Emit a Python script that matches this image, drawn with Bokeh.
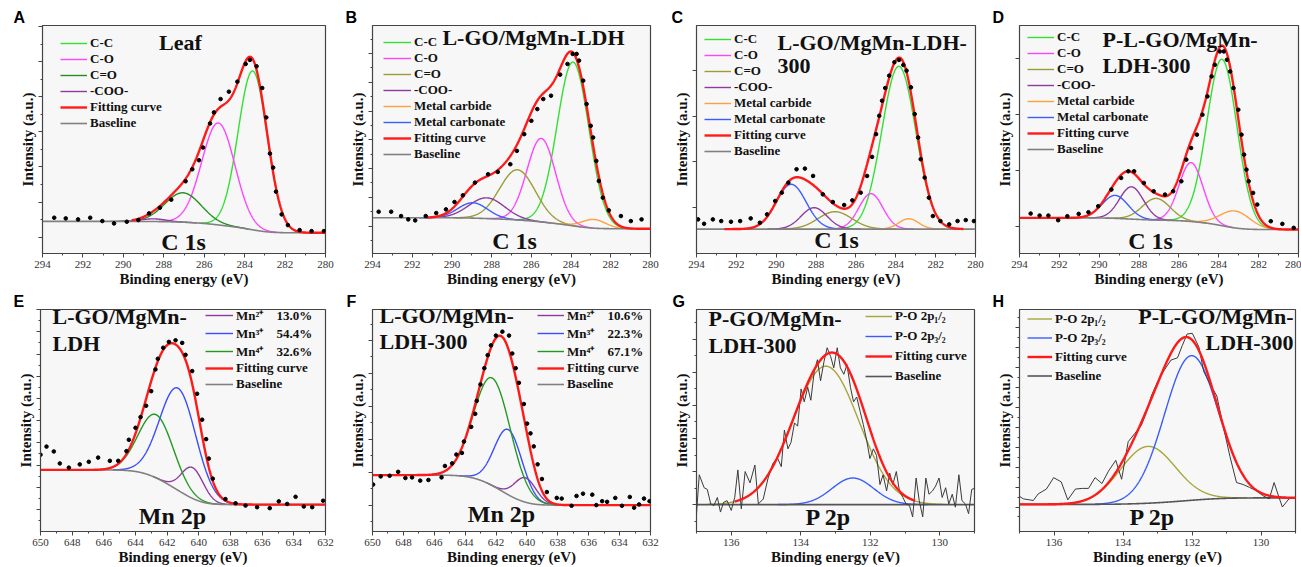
import numpy as np
from bokeh.plotting import figure
from bokeh.models import (Range1d, FixedTicker, SingleIntervalTicker, Label, Legend,
                          LegendItem, CustomJSTickFormatter, Title)
from bokeh.layouts import row, column
from bokeh.embed import file_html
from bokeh.resources import INLINE

SERIF = "Liberation Serif"
SANS = "Liberation Sans"
NB = "\u00a0" * 4

# ====================== DATA ======================
# Intensities are in arbitrary units (a.u.); binding energies in eV.

# ---- A: Leaf, C 1s ----
A_be = [293.42, 292.85, 292.24, 291.64, 291.04, 290.46, 289.83, 289.26, 288.73, 288.19,
        287.63, 286.92, 286.59, 286.26, 286.06, 285.71, 285.52, 285.19, 284.78, 284.36,
        283.95, 283.74, 283.41, 283.13, 282.93, 282.75, 282.59, 282.45, 282.17, 281.86,
        281.28, 280.69, 280.08]
A_int = [107, 105, 102, 107, 97, 90, 95, 100, 120, 137,
         161, 216, 252, 279, 317, 389, 422, 462, 484, 514,
         567, 579, 560, 495, 407, 299, 257, 185, 117, 85,
         70, 67, 67]
A_comp = ["C-C", "C-O", "C=O", "-COO-"]
A_center = [283.6, 285.3, 287.05, 288.5]
A_height = [475, 305, 88, 8]
A_sigma = [0.72, 0.82, 0.90, 0.60]
A_baseline = [96, 62]          # high-BE side, low-BE side

# ---- B: L-GO/MgMn-LDH, C 1s ----
B_be = [293.69, 293.06, 292.56, 292.20, 291.85, 291.32, 290.79, 290.30, 289.87, 289.45,
        288.84, 288.18, 287.69, 287.06, 286.73, 286.36, 286.00, 285.70, 285.40, 285.01,
        284.55, 284.18, 283.92, 283.72, 283.60, 283.39, 283.22, 283.01, 282.89, 282.73,
        282.60, 282.40, 282.10, 281.49, 280.99, 280.45]
B_int = [125, 125, 112, 102, 99, 112, 121, 132, 154, 174,
         212, 237, 244, 267, 307, 357, 397, 432, 462, 472,
         535, 567, 597, 597, 577, 517, 447, 382, 347, 277,
         217, 167, 129, 112, 97, 102]
C1S_comp = ["C-C", "C-O", "C=O", "-COO-", "Metal carbide", "Metal carbonate"]
B_center = [283.9, 285.5, 286.7, 288.25, 282.85, 288.95]
B_height = [490, 250, 150, 62, 26, 46]
B_sigma = [0.80, 0.72, 0.90, 0.90, 0.60, 0.75]
B_baseline = [107, 74]

# ---- C: L-GO/MgMn-LDH-300, C 1s ----
C_be = [293.92, 293.62, 293.18, 292.76, 292.27, 291.81, 291.28, 290.82, 290.46, 290.05,
        289.72, 289.39, 288.98, 288.56, 288.15, 287.66, 287.16, 286.59, 286.18, 285.76,
        285.44, 285.19, 284.99, 284.83, 284.69, 284.53, 284.33, 284.07, 283.84, 283.62,
        283.46, 283.24, 283.05, 282.88, 282.75, 282.55, 282.34, 282.14, 281.76, 281.32,
        280.90, 280.49, 280.08]
C_int = [102, 89, 102, 97, 95, 97, 105, 92, 117, 157,
         182, 212, 252, 254, 232, 177, 154, 145, 159, 182,
         232, 289, 357, 412, 457, 495, 532, 572, 579, 564,
         547, 497, 417, 347, 282, 227, 167, 112, 97, 87,
         97, 100, 97]
C_center = [283.85, 285.25, 287.05, 288.1, 283.35, 289.25]
C_height = [487, 106, 52, 64, 31, 134]
C_sigma = [0.85, 0.60, 0.85, 0.65, 0.50, 0.75]
C_baseline = [73, 73]

# ---- D: P-L-GO/MgMn-LDH-300, C 1s ----
D_be = [293.44, 292.99, 292.55, 292.06, 291.60, 291.03, 290.54, 290.05, 289.39, 288.90,
        288.54, 288.25, 287.76, 287.27, 286.70, 286.29, 285.88, 285.63, 285.39, 285.10,
        284.82, 284.57, 284.36, 284.20, 283.95, 283.75, 283.59, 283.43, 283.26, 283.02,
        282.86, 282.73, 282.61, 282.50, 282.28, 282.07, 281.39, 280.81, 280.24]
D_int = [120, 114, 114, 100, 112, 119, 124, 142, 192, 227,
         247, 247, 212, 187, 177, 187, 217, 282, 317, 357,
         417, 472, 532, 567, 607, 607, 582, 547, 497, 432,
         357, 297, 252, 217, 182, 147, 97, 89, 77]
D_center = [283.84, 285.39, 287.14, 288.38, 283.18, 289.2]
D_height = [500, 177, 65, 97, 51, 69]
D_sigma = [0.76, 0.60, 0.70, 0.60, 0.75, 0.65]
D_baseline = [107, 72]

# ---- E: L-GO/MgMn-LDH, Mn 2p ----
E_be = [650.0, 649.62, 649.16, 648.78, 648.21, 647.52, 646.95, 646.36, 645.62, 645.09,
        644.57, 644.42, 644.0, 643.68, 643.33, 643.01, 642.74, 642.59, 642.25, 641.89,
        641.47, 641.05, 640.84, 640.42, 640.11, 639.79, 639.54, 639.37, 639.12, 638.32,
        637.68, 637.05, 636.32, 635.52, 634.95, 634.42, 633.89, 633.37, 632.84, 632.15]
E_int = [237, 262, 247, 210, 197, 207, 215, 228, 218, 218,
         248, 283, 320, 353, 388, 433, 500, 533, 567, 585,
         590, 582, 545, 495, 425, 345, 285, 225, 163, 100,
         87, 80, 75, 72, 93, 85, 107, 77, 75, 95]
E_comp = ["Mn\u00b2\u207a" + NB + "13.0%", "Mn\u00b3\u207a" + NB + "54.4%",
          "Mn\u2074\u207a" + NB + "32.6%"]
E_center = [640.4, 641.3, 642.7]
E_height = [95, 315, 195]
E_sigma = [0.70, 1.15, 1.10]
E_baseline = [190, 83]

# ---- F: L-GO/MgMn-LDH-300, Mn 2p ----
F_be = [649.96, 649.47, 648.89, 648.34, 647.87, 647.44, 646.91, 646.38, 645.53, 645.31,
        644.84, 644.57, 644.21, 644.08, 643.61, 643.35, 643.25, 643.01, 642.76, 642.54,
        642.33, 642.01, 641.59, 641.16, 640.95, 640.73, 640.52, 640.20, 639.99, 639.77,
        639.56, 639.31, 639.03, 638.71, 638.07, 637.75, 637.11, 636.79, 636.37, 635.77,
        635.51, 635.13, 634.81, 634.28, 633.85, 633.34, 633.06, 632.74, 632.42, 632.06]
F_int = [144, 169, 171, 183, 164, 166, 156, 158, 166, 201,
         209, 236, 241, 276, 321, 361, 401, 451, 501, 541,
         571, 601, 613, 601, 546, 501, 456, 391, 331, 301,
         261, 206, 161, 121, 103, 101, 79, 109, 116, 113,
         81, 93, 91, 103, 79, 106, 73, 83, 101, 93]
F_comp = ["Mn\u00b2\u207a" + NB + "10.6%", "Mn\u00b3\u207a" + NB + "22.3%",
          "Mn\u2074\u207a" + NB + "67.1%"]
F_center = [640.1, 641.2, 642.25]
F_height = [75, 200, 330]
F_sigma = [0.70, 0.90, 1.20]
F_baseline = [173, 81]

# ---- G: P-GO/MgMn-LDH-300, P 2p ----
G_be = [137.0, 136.92, 136.78, 136.69, 136.59, 136.50, 136.40, 136.31, 136.22, 136.12,
        136.00, 135.90, 135.81, 135.71, 135.60, 135.46, 135.32, 135.22, 135.08, 134.94,
        134.80, 134.67, 134.56, 134.47, 134.37, 134.28, 134.18, 134.09, 133.99, 133.90,
        133.80, 133.71, 133.61, 133.52, 133.43, 133.33, 133.24, 133.14, 133.05, 132.95,
        132.86, 132.76, 132.67, 132.57, 132.48, 132.39, 132.29, 132.20, 132.10, 132.01,
        131.91, 131.82, 131.72, 131.63, 131.53, 131.44, 131.35, 131.25, 131.16, 131.06,
        130.97, 130.87, 130.78, 130.68, 130.59, 130.49, 130.40, 130.31, 130.21, 130.12,
        130.02, 129.93, 129.83, 129.74, 129.64, 129.55, 129.45, 129.36, 129.26, 129.17,
        129.08, 129.0]
G_int = [55, 175, 135, 130, 85, 80, 105, 60, 90, 95,
         65, 105, 190, 70, 185, 150, 205, 85, 100, 165,
         210, 227, 200, 313, 255, 275, 335, 325, 440, 400,
         445, 405, 495, 530, 465, 525, 567, 540, 505, 567,
         505, 485, 515, 445, 400, 415, 370, 330, 280, 225,
         255, 235, 145, 175, 125, 180, 145, 185, 125, 105,
         85, 80, 45, 165, 95, 45, 165, 115, 125, 140,
         165, 105, 135, 85, 115, 75, 175, 95, 85, 55,
         130, 133]
P2P_comp = ["P-O 2p\u2081/\u2082", "P-O 2p\u2083/\u2082"]
G_center = [133.28, 132.5]
G_height = [427, 82]
G_sigma = [0.95, 0.60]
G_baseline = [83, 83]

# ---- H: P-L-GO/MgMn-LDH-300, P 2p ----
H_be = [137.0, 136.89, 136.60, 136.46, 136.22, 136.01, 135.79, 135.60, 135.38, 135.18,
        135.00, 134.81, 134.61, 134.42, 134.21, 134.04, 133.85, 133.66, 133.47, 133.32,
        133.18, 132.99, 132.80, 132.61, 132.42, 132.28, 132.14, 131.99, 131.80, 131.66,
        131.47, 131.28, 131.09, 130.90, 130.71, 130.52, 130.33, 130.14, 129.95, 129.76,
        129.62, 129.48, 129.38, 129.19, 129.05]
H_int = [108, 100, 95, 115, 130, 165, 152, 97, 130, 132,
         132, 165, 147, 185, 218, 160, 275, 300, 325, 365,
         415, 460, 495, 525, 532, 570, 605, 607, 565, 490,
         450, 415, 320, 230, 150, 144, 135, 125, 110, 100,
         150, 105, 75, 100, 104]
H_center = [133.28, 132.02]
H_height = [174, 443]
H_sigma = [0.80, 0.78]
H_baseline = [83, 103]

# ====================== STYLE / LAYOUT ======================
C1S_COLORS = ["#33e033", "#ff44ff", "#9c9c36", "#8e3a9e", "#ffa040", "#3a5cff"]
A_COLORS = ["#33e033", "#ff44ff", "#1f8f1f", "#8e3a9e"]
MN_COLORS = ["#8e3a9e", "#3a4cff", "#229a22"]
P_COLORS = ["#a6a63a", "#3a5cff"]
FIT = "#ff1a1a"
FH = 228

panels = [
    dict(letter="A", title=[("Leaf", 138, 211, "center")], elem="C 1s", ex=141, ey=12,
         xr=(280, 294), ytop=682, be=A_be, inten=A_int, kind="dots",
         comp=A_comp, center=A_center, height=A_height, sigma=A_sigma, base=A_baseline,
         colors=A_COLORS, fit=(280, 289.6), w=346, h=290, bl=42, br=21, bt=25, bb=37,
         yt=(49, 105, True), lx=18, ltop=10, lrow=16, gw=27, letter_x=-29),
    dict(letter="B", title=[("L-GO/MgMn-LDH", 161, 216, "center")], elem="C 1s", ex=142, ey=13,
         xr=(280, 294), ytop=682, be=B_be, inten=B_int, kind="dots",
         comp=C1S_comp, center=B_center, height=B_height, sigma=B_sigma, base=B_baseline,
         colors=C1S_COLORS, fit=(280, 291.3), w=324, h=290, bl=22, br=20, bt=25, bb=37,
         yt=(82, 86, True), lx=11, ltop=9, lrow=16, gw=28, letter_x=-27),
    dict(letter="C", title=[("L-GO/MgMn-LDH-", 81, 211, "left"), ("300", 81, 188, "left")],
         elem="C 1s", ex=140, ey=14,
         xr=(280, 294), ytop=682, be=C_be, inten=C_int, kind="dots",
         comp=C1S_comp, center=C_center, height=C_height, sigma=C_sigma, base=C_baseline,
         colors=C1S_COLORS, fit=(280.6, 292.6), w=323, h=290, bl=22, br=18, bt=25, bb=37,
         yt=(137, 137, False), lx=8, ltop=6, lrow=16, gw=27, letter_x=-25),
    dict(letter="D", title=[("P-L-GO/MgMn-", 83, 214, "left"), ("LDH-300", 83, 188, "left")],
         elem="C 1s", ex=131, ey=13,
         xr=(280, 294), ytop=685, be=D_be, inten=D_int, kind="dots",
         comp=C1S_comp, center=D_center, height=D_height, sigma=D_sigma, base=D_baseline,
         colors=C1S_COLORS, fit=(280, 294), w=308, h=290, bl=22, br=3, bt=25, bb=37,
         yt=(82, 168, False), lx=8, ltop=4, lrow=16, gw=27, letter_x=-27),
    dict(letter="E", title=[("L-GO/MgMn-", 12, 215, "left"), ("LDH", 12, 188, "left")],
         elem="Mn 2p", ex=132, ey=16,
         xr=(632, 650), ytop=685, be=E_be, inten=E_int, kind="dots",
         comp=E_comp, center=E_center, height=E_height, sigma=E_sigma, base=E_baseline,
         colors=MN_COLORS, fit=(632, 650), w=346, h=277, bl=40, br=21, bt=16, bb=33,
         yt=(68, 68.5, True), lx=165, ltop=9, lrow=16, gw=28, letter_x=-27),
    dict(letter="F", title=[("L-GO/MgMn-", 7, 216, "left"), ("LDH-300", 7, 190, "left")],
         elem="Mn 2p", ex=129, ey=18,
         xr=(632, 650), ytop=681, be=F_be, inten=F_int, kind="dots",
         comp=F_comp, center=F_center, height=F_height, sigma=F_sigma, base=F_baseline,
         colors=MN_COLORS, fit=(632, 650), w=324, h=277, bl=22, br=20, bt=16, bb=33,
         yt=(81, 101, True), lx=165, ltop=9, lrow=16, gw=27, letter_x=-26),
    dict(letter="G", title=[("P-GO/MgMn-", 12, 213, "left"), ("LDH-300", 12, 186, "left")],
         elem="P 2p", ex=132, ey=15,
         xr=(129, 137), ytop=685, be=G_be, inten=G_int, kind="line",
         comp=P2P_comp, center=G_center, height=G_height, sigma=G_sigma, base=G_baseline,
         colors=P_COLORS, fit=(130.7, 135.9), w=323, h=277, bl=22, br=19, bt=16, bb=33,
         yt=(83, 102, True), lx=169, ltop=3, lrow=20, gw=27, letter_x=-24),
    dict(letter="H", title=[("P-L-GO/MgMn-", 274, 215, "right"), ("LDH-300", 274, 189, "right")],
         elem="P 2p", ex=133, ey=15,
         xr=(129, 137), ytop=680, be=H_be, inten=H_int, kind="line",
         comp=P2P_comp, center=H_center, height=H_height, sigma=H_sigma, base=H_baseline,
         colors=P_COLORS, fit=(129, 137), w=308, h=277, bl=22, br=6, bt=16, bb=33,
         yt=(75, 61, True), lx=8, ltop=6, lrow=19, gw=25, letter_x=-27),
]


def gauss(x, c, h, s):
    return h * np.exp(-(x - c) ** 2 / (2.0 * s * s))


def lab(p, text, x, y, size, font=SERIF, align="center", style="bold", color="#111111"):
    p.add_layout(Label(x=x, y=y, x_units="screen", y_units="screen", text=text,
                       text_font=font, text_font_style=style, text_font_size=size,
                       text_align=align, text_baseline="middle", text_color=color))


def build(s):
    lo, hi = s["xr"]
    p = figure(width=s["w"], height=s["h"], x_range=Range1d(hi, lo),
               y_range=Range1d(0, s["ytop"]), output_backend="svg",
               toolbar_location=None, tools="",
               min_border_left=s["bl"], min_border_right=s["br"],
               min_border_top=s["bt"], min_border_bottom=s["bb"])
    p.background_fill_color = "#f7f7f7"
    p.border_fill_color = "white"
    p.outline_line_color = "#444444"
    p.outline_line_width = 1.2
    p.grid.visible = False

    # panel letter as a left-aligned title shifted to the left of the frame
    p.title = Title(text=s["letter"], align="left", offset=s["letter_x"], standoff=0,
                    text_font=SANS, text_font_style="bold", text_font_size="16px",
                    text_color="#000000", text_line_height=1.0)

    # x axis
    xa = p.xaxis[0]
    xa.ticker = SingleIntervalTicker(interval=2, num_minor_ticks=2)
    xa.major_label_text_font = SERIF
    xa.major_label_text_font_size = "11px"
    xa.major_label_text_color = "#333333"
    xa.major_label_text_line_height = 1.0
    xa.major_label_standoff = 3
    xa.major_tick_out = 4
    xa.major_tick_in = 0
    xa.minor_tick_out = 2
    xa.minor_tick_in = 0
    xa.axis_line_color = "#444444"
    xa.major_tick_line_color = "#444444"
    xa.minor_tick_line_color = "#444444"
    xa.axis_label = "Binding energy (eV)"
    xa.axis_label_text_font = SERIF
    xa.axis_label_text_font_style = "bold"
    xa.axis_label_text_font_size = "15px"
    xa.axis_label_text_color = "#111111"
    xa.axis_label_text_line_height = 1.0
    xa.axis_label_standoff = 0

    # y axis (no numbers)
    ya = p.yaxis[0]
    st, step, has_minor = s["yt"]
    majors = [float(v) for v in np.arange(st, s["ytop"], step)]
    minors = []
    if has_minor:
        minors = [m - step / 2.0 for m in majors if m - step / 2.0 > 0]
        if majors[-1] + step / 2.0 < s["ytop"]:
            minors.append(majors[-1] + step / 2.0)
    ya.ticker = FixedTicker(ticks=majors, minor_ticks=minors)
    ya.formatter = CustomJSTickFormatter(code="return ''")
    ya.major_label_text_color = None
    ya.major_label_standoff = 0
    ya.major_tick_out = 4
    ya.major_tick_in = 0
    ya.minor_tick_out = 2
    ya.minor_tick_in = 0
    ya.axis_line_color = "#444444"
    ya.major_tick_line_color = "#444444"
    ya.minor_tick_line_color = "#444444"
    ya.axis_label = "Intensity (a.u.)"
    ya.axis_label_text_font = SERIF
    ya.axis_label_text_font_style = "bold"
    ya.axis_label_text_font_size = "15px"
    ya.axis_label_text_color = "#111111"
    ya.axis_label_text_line_height = 1.0
    ya.axis_label_standoff = 3

    # fit model (Gaussian components on a Shirley-type background)
    xs = np.linspace(lo, hi, 900)
    comps = [gauss(xs, c, h, sg) for c, h, sg in zip(s["center"], s["height"], s["sigma"])]
    total = np.sum(comps, axis=0)
    cum = np.concatenate([[0.0], np.cumsum(0.5 * (total[1:] + total[:-1]) * np.diff(xs))])
    frac = cum / cum[-1]
    high, low = s["base"]
    base = low + (high - low) * frac

    rends = []
    for g, c, sg, col in zip(comps, s["center"], s["sigma"], s["colors"]):
        m = np.abs(xs - c) <= 3.6 * sg
        r = p.line(xs[m], base[m] + g[m], line_color=col, line_width=1.4)
        rends.append(r)

    dark = s["kind"] == "line"
    rb = p.line(xs, base, line_color="#555555" if dark else "#808080", line_width=1.6)
    if dark:
        p.line(s["be"], s["inten"], line_color="#3a3a3a", line_width=1.0)
    fm = (xs >= s["fit"][0]) & (xs <= s["fit"][1])
    rf = p.line(xs[fm], base[fm] + total[fm], line_color=FIT, line_width=2.4)
    if not dark:
        p.scatter(s["be"], s["inten"], size=3.6, marker="circle",
                  fill_color="black", line_color="black")

    # legend
    labels = list(s["comp"]) + ["Fitting curve", "Baseline"]
    items = [LegendItem(label=t, renderers=[r]) for t, r in zip(labels, rends + [rf, rb])]
    n = len(items)
    leg = Legend(items=items, location=(s["lx"], FH - s["ltop"] - n * s["lrow"]),
                 orientation="vertical", padding=0, margin=0, spacing=0,
                 glyph_width=s["gw"], glyph_height=s["lrow"], label_height=s["lrow"],
                 label_standoff=3, label_text_font=SERIF, label_text_font_style="bold",
                 label_text_font_size="13px", label_text_color="#111111",
                 background_fill_alpha=0, border_line_alpha=0)
    p.add_layout(leg)

    # texts inside the frame
    for t, x, y, al in s["title"]:
        lab(p, t, x, y, "22px", align=al)
    lab(p, s["elem"], s["ex"], s["ey"], "24px")
    return p


figs = [build(s) for s in panels]
layout = column(row(*figs[:4]), row(*figs[4:]))
open("out.html", "w").write(file_html(layout, INLINE))
